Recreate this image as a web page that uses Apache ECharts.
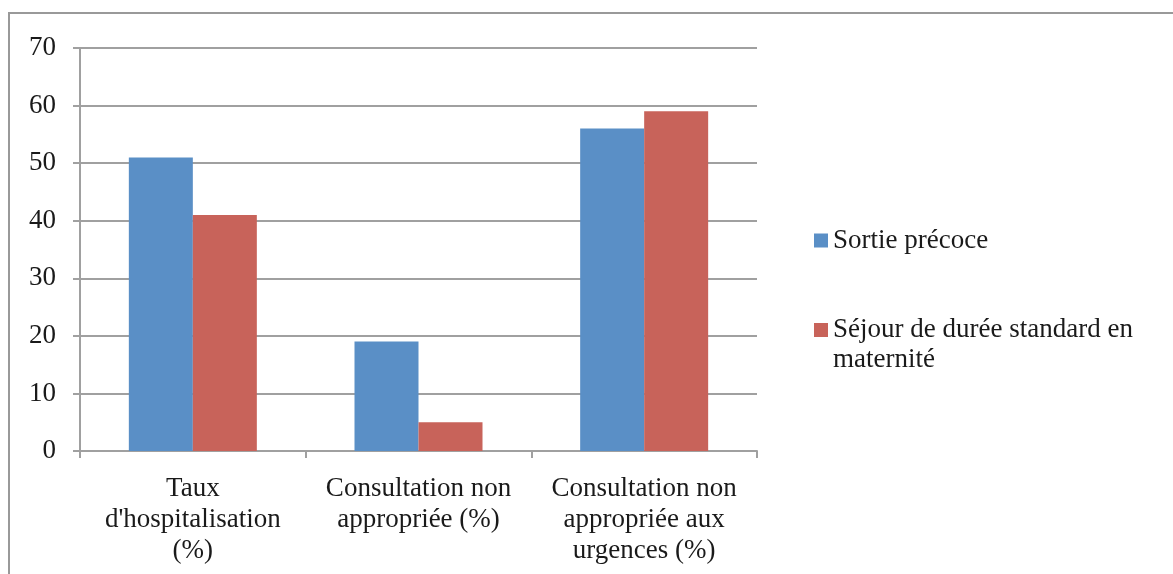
<!DOCTYPE html>
<html>
<head>
<meta charset="utf-8">
<script src="https://cdn.jsdelivr.net/npm/echarts@6/dist/echarts.min.js"></script>
<style>
  html, body { margin: 0; padding: 0; background: #fff; }
  #chart { width: 1173px; height: 574px; }
</style>
</head>
<body>
<div id="chart"></div>
<script>
var categories = ["Taux\nd'hospitalisation\n(%)", "Consultation non\nappropriée (%)", "Consultation non\nappropriée aux\nurgences (%)"];
var seriesNames = ["Sortie précoce", "Séjour de durée standard en maternité"];
var sortiePrecoce = [51, 19, 56];
var sejourStandard = [41, 5, 59];
var yTicks = [0, 10, 20, 30, 40, 50, 60, 70];

var font = "Liberation Serif";
var txt = "#1a1a1a";
var gray = "#a0a0a0";

var myChart = echarts.init(document.getElementById("chart"));
var option = {
	animation: false,
	graphic: [{
		type: "rect",
		shape: { x: 9, y: 13, width: 1300, height: 700 },
		style: { fill: null, stroke: "#999", lineWidth: 2 },
		silent: true
	}],
	legend: [{
		data: [seriesNames[0]],
		left: 809, top: 222,
		itemWidth: 14, itemHeight: 14,
		icon: "rect",
		textStyle: { fontFamily: font, fontSize: 27, color: txt }
	}, {
		data: [seriesNames[1]],
		left: 809, top: 280,
		itemWidth: 14, itemHeight: 14,
		icon: "rect",
		// blank first line so the icon sits on the first visible line
		formatter: function (name) { return "\nSéjour de durée standard en\nmaternité"; },
		textStyle: { fontFamily: font, fontSize: 27, color: txt, lineHeight: 30 }
	}],
	grid: { left: 80, right: 416, top: 48, bottom: 123 },
	xAxis: {
		type: "category",
		data: categories,
		axisLine: { lineStyle: { color: gray, width: 2 } },
		axisTick: { show: true, length: 7, lineStyle: { color: gray, width: 2 } },
		axisLabel: { interval: 0, margin: 22, fontFamily: font, fontSize: 27, color: txt, lineHeight: 31 }
	},
	yAxis: {
		type: "value",
		min: yTicks[0], max: yTicks[yTicks.length - 1], interval: 10,
		axisLine: { show: true, lineStyle: { color: gray, width: 2 } },
		axisTick: { show: true, length: 7, lineStyle: { color: gray, width: 2 } },
		axisLabel: { margin: 24, fontFamily: font, fontSize: 27, color: txt },
		splitLine: { lineStyle: { color: gray, width: 2 } }
	},
	series: [{
		name: seriesNames[0],
		type: "bar",
		data: sortiePrecoce,
		barWidth: 64,
		barGap: "0%",
		itemStyle: { color: "#5a8fc6" }
	}, {
		name: seriesNames[1],
		type: "bar",
		data: sejourStandard,
		barWidth: 64,
		itemStyle: { color: "#c8635a" }
	}]
};
myChart.setOption(option);
</script>
</body>
</html>
